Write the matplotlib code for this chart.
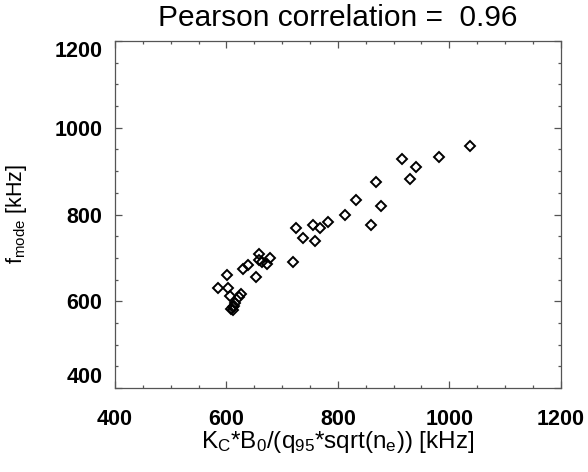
import matplotlib
matplotlib.use("Agg")
import matplotlib.pyplot as plt
from matplotlib.ticker import MultipleLocator

plt.rcParams['font.family'] = ['Liberation Sans', 'DejaVu Sans']
plt.rcParams['mathtext.fontset'] = 'custom'
plt.rcParams['mathtext.rm'] = 'Liberation Sans'
plt.rcParams['mathtext.it'] = 'Liberation Sans:italic'
plt.rcParams['mathtext.bf'] = 'Liberation Sans:bold'

# scaling estimate vs measured mode frequency (kHz)
x_scaling = [1037, 915, 982, 941, 929, 868, 878, 832, 812, 859,
             783, 768, 756, 759, 738, 724, 720, 678, 672, 664,
             659, 658, 653, 639, 629, 601, 584, 603, 606, 627,
             622, 616, 611, 612, 609, 614]
f_mode = [959, 928, 933, 910, 881, 874, 820, 834, 799, 775,
          783, 770, 775, 739, 745, 769, 690, 700, 687, 690,
          709, 694, 656, 683, 675, 660, 630, 630, 611, 617,
          609, 597, 587, 580, 583, 590]
pearson = 0.96
ticks = [400, 600, 800, 1000, 1200]

fig = plt.figure(figsize=(5.88, 4.72), dpi=100)
ax = fig.add_axes([0.1956, 0.178, 0.758, 0.735])

ax.plot(x_scaling, f_mode, linestyle='none', marker='D', markersize=5.2,
        markerfacecolor='none', markeredgecolor='black', markeredgewidth=1.4)

ax.set_xlim(400, 1200)
ax.set_ylim(400, 1200)
ax.set_xticks(ticks)
ax.set_yticks(ticks)
ax.xaxis.set_minor_locator(MultipleLocator(50))
ax.yaxis.set_minor_locator(MultipleLocator(50))

for s in ax.spines.values():
    s.set_color('#555555')
    s.set_linewidth(0.9)

ax.tick_params(which='both', direction='in', top=True, right=True, color='#555555', width=0.9)
ax.tick_params(which='major', length=5)
ax.tick_params(which='minor', length=2.5)
ax.tick_params(axis='x', which='major', pad=15, labelsize=15.5)
ax.tick_params(axis='y', which='major', pad=9, labelsize=15.5)
for lab in ax.get_xticklabels() + ax.get_yticklabels():
    lab.set_fontweight('bold')

yt = ax.yaxis.get_major_ticks()
yt[0].label1.set_verticalalignment('bottom')
yt[-1].label1.set_verticalalignment('top')

ax.set_xlabel(r'K$_\mathrm{C}$*B$_\mathrm{0}$/(q$_\mathrm{95}$*sqrt(n$_\mathrm{e}$)) [kHz]', fontsize=17.5)
ax.xaxis.set_label_coords(0.5, -0.173)
ax.xaxis.label.set_verticalalignment('baseline')

ax.set_ylabel(r'f$_\mathrm{mode}$ [kHz]', fontsize=15.5)
ax.yaxis.set_label_coords(-0.193, 0.5)

ax.set_title('Pearson correlation =  %.2f' % pearson, fontsize=21.5, pad=11)

fig.savefig('out.png', dpi=100)
